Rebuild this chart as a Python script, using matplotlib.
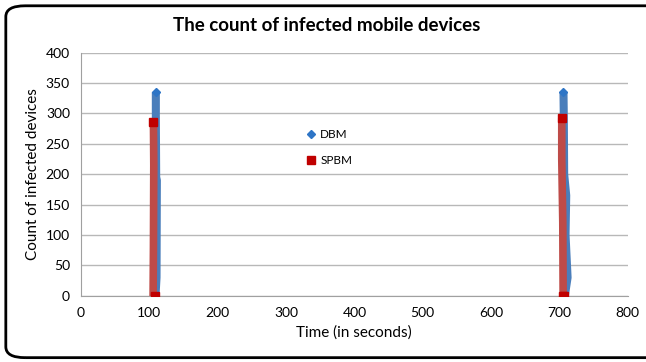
import numpy as np
import matplotlib.pyplot as plt
from matplotlib.lines import Line2D
from matplotlib.patches import FancyBboxPatch

plt.rcParams['font.family'] = ['Lato', 'DejaVu Sans']

# DBM: two bursts of infections (gap between runs)
dbm_time = [109.5, 109.5, 110, 111, 110.5, 109, np.nan,
            706, 706.5, 707, 710, 709, 712, 708]
dbm_count = [335, 290, 195, 190, 30, 0, np.nan,
             335, 290, 200, 165, 100, 30, 0]

# SPBM
spbm_time = [106, 106.5, 106, 105.5, 108.5, np.nan,
             703.5, 703.5, 705, 705.5, 707]
spbm_count = [286, 215, 80, 0, 0, np.nan,
              292, 225, 120, 0, 0]

x_ticks = [0, 100, 200, 300, 400, 500, 600, 700, 800]
y_ticks = [0, 50, 100, 150, 200, 250, 300, 350, 400]

fig = plt.figure(figsize=(6.46, 3.62), dpi=100)
ax = fig.add_axes([0.1254, 0.1831, 0.8463, 0.6713])

ax.plot(dbm_time, dbm_count, color='#4A7EBB', linewidth=5.8,
        marker='D', markersize=4.5, markerfacecolor='#2E75C6',
        markeredgecolor='#2E75C6', markevery=[0, 7], zorder=3,
        solid_capstyle='butt')
ax.plot(spbm_time, spbm_count, color='#BE4B48', linewidth=5.5,
        marker='s', markersize=6, markerfacecolor='#C00000',
        markeredgecolor='#C00000', markevery=[0, 4, 6, 9, 10], zorder=4,
        solid_capstyle='butt')

ax.set_xlim(0, 800)
ax.set_ylim(0, 400)
ax.set_xticks(x_ticks)
ax.set_yticks(y_ticks)
ax.tick_params(length=0, labelsize=10, pad=8)
ax.grid(axis='y', color='#B8B8B8', linewidth=1)
ax.set_axisbelow(True)
for s in ['top', 'right']:
    ax.spines[s].set_visible(False)
for s in ['left', 'bottom']:
    ax.spines[s].set_color('#A0A0A0')

ax.set_xlabel('Time (in seconds)', fontsize=11, labelpad=5)
ax.set_ylabel('Count of infected devices', fontsize=11, labelpad=4)
fig.text(0.505, 0.93, 'The count of infected mobile devices', ha='center',
         va='center', fontsize=13.5, fontweight='bold')

handles = [Line2D([], [], linestyle='none', marker='D', markersize=4.5,
                  color='#2E75C6'),
           Line2D([], [], linestyle='none', marker='s', markersize=6,
                  color='#C00000')]
ax.legend(handles, ['DBM', 'SPBM'], loc='center', bbox_to_anchor=(0.455, 0.61),
          frameon=False, fontsize=8.5, handlelength=0.6, handletextpad=0.5,
          labelspacing=1.3)

frame = FancyBboxPatch((0.009, 0.012), 1.04, 0.972,
                       boxstyle='round,pad=0,rounding_size=0.03',
                       transform=fig.transFigure, facecolor='none',
                       edgecolor='black', linewidth=2, clip_on=False)
fig.patches.append(frame)

fig.savefig('out.png', dpi=100)
plt.close()
